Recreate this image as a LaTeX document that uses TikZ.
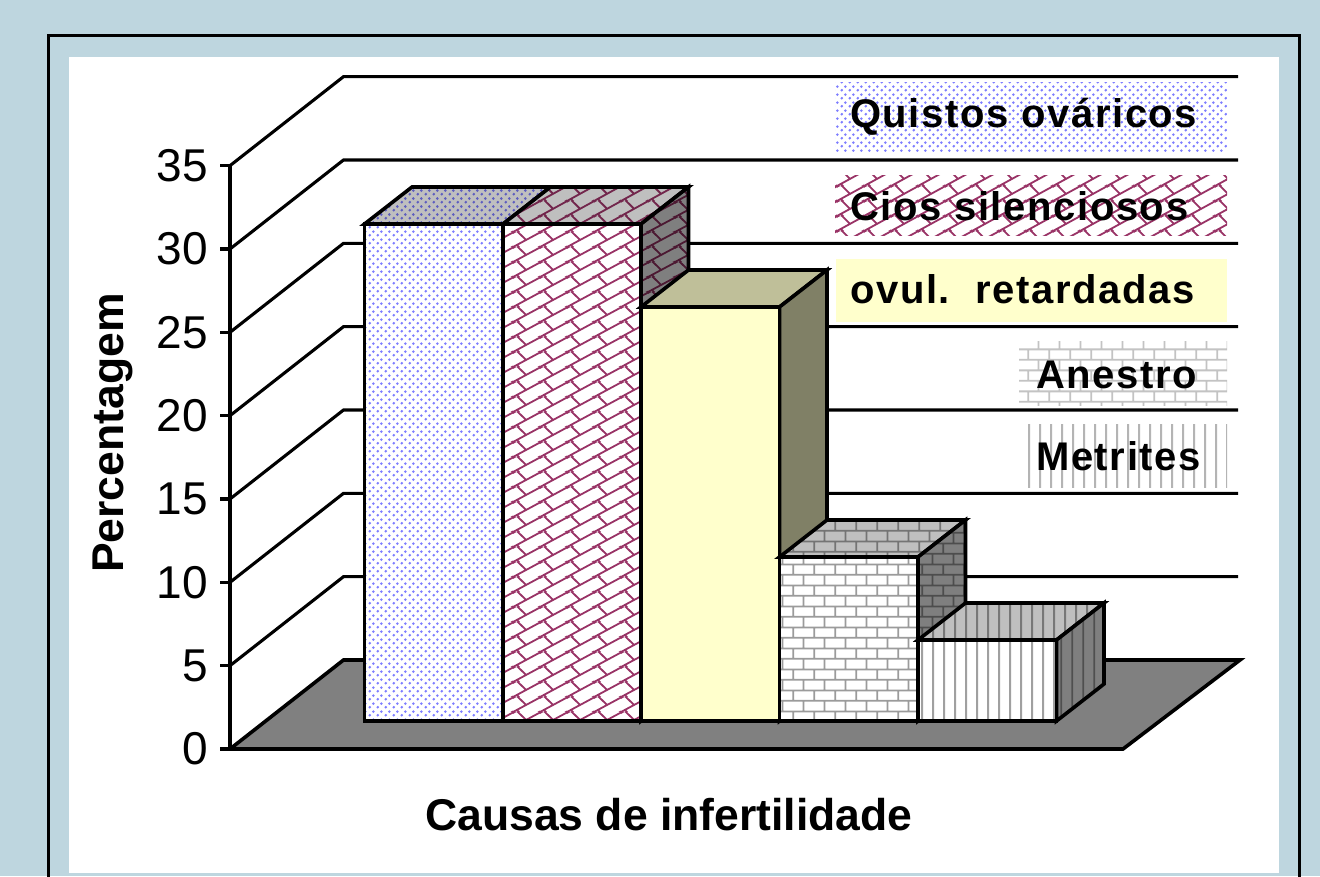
\documentclass[tikz,border=0pt]{standalone}
\usepackage{fontspec}
\setmainfont{Liberation Sans}
\newfontfamily\legfont[LetterSpace=4.0]{Liberation Sans}
\usetikzlibrary{patterns}
\definecolor{bgblue}{RGB}{190,214,223}
\definecolor{dotcol}{RGB}{125,125,255}
\definecolor{maroon}{RGB}{153,51,102}
\definecolor{brickcol}{RGB}{155,155,155}
\definecolor{brickleg}{RGB}{195,195,195}
\definecolor{vlcol}{RGB}{160,160,160}
\definecolor{vlleg}{RGB}{180,180,180}
\definecolor{ylw}{RGB}{255,255,204}
\definecolor{floorgray}{RGB}{128,128,128}
% dots: staggered lattice 8 x 4
\pgfdeclarepatternformonly{mydots}{\pgfpointorigin}{\pgfpoint{8pt}{8pt}}{\pgfpoint{8pt}{8pt}}{%
  \pgfpathcircle{\pgfpoint{2pt}{2pt}}{1.6pt}%
  \pgfpathcircle{\pgfpoint{6pt}{6pt}}{1.6pt}%
  \pgfusepath{fill}}
% horizontal bricks 21.333 x 10.667
\pgfdeclarepatternformonly{mybricks}{\pgfpointorigin}{\pgfpoint{21.333pt}{21.333pt}}{\pgfpoint{21.333pt}{21.333pt}}{%
  \pgfsetlinewidth{1.9pt}%
  \pgfpathmoveto{\pgfpoint{-1pt}{5.333pt}}\pgfpathlineto{\pgfpoint{22.333pt}{5.333pt}}%
  \pgfpathmoveto{\pgfpoint{-1pt}{16pt}}\pgfpathlineto{\pgfpoint{22.333pt}{16pt}}%
  \pgfpathmoveto{\pgfpoint{5.333pt}{5.333pt}}\pgfpathlineto{\pgfpoint{5.333pt}{16pt}}%
  \pgfpathmoveto{\pgfpoint{16pt}{16pt}}\pgfpathlineto{\pgfpoint{16pt}{22.333pt}}%
  \pgfpathmoveto{\pgfpoint{16pt}{-1pt}}\pgfpathlineto{\pgfpoint{16pt}{5.333pt}}%
  \pgfusepath{stroke}}
% vertical lines every 10.667
\pgfdeclarepatternformonly{myvlines}{\pgfpointorigin}{\pgfpoint{10.667pt}{10.667pt}}{\pgfpoint{10.667pt}{10.667pt}}{%
  \pgfsetlinewidth{2pt}%
  \pgfpathmoveto{\pgfpoint{5.333pt}{-1pt}}\pgfpathlineto{\pgfpoint{5.333pt}{11.667pt}}%
  \pgfusepath{stroke}}
% diagonal bricks, tile 27 x 15
\pgfdeclarepatternformonly{mydiag}{\pgfpointorigin}{\pgfpoint{27pt}{15pt}}{\pgfpoint{27pt}{15pt}}{%
  \pgfsetlinewidth{1.9pt}%
  \pgfpathmoveto{\pgfpoint{-5pt}{-17.78pt}}\pgfpathlineto{\pgfpoint{32pt}{2.78pt}}%
  \pgfpathmoveto{\pgfpoint{-5pt}{-2.78pt}}\pgfpathlineto{\pgfpoint{32pt}{17.78pt}}%
  \pgfpathmoveto{\pgfpoint{-5pt}{12.22pt}}\pgfpathlineto{\pgfpoint{32pt}{32.78pt}}%
  \pgfpathmoveto{\pgfpoint{13.5pt}{7.5pt}}\pgfpathlineto{\pgfpoint{3.86pt}{17.14pt}}%
  \pgfpathmoveto{\pgfpoint{13.5pt}{-7.5pt}}\pgfpathlineto{\pgfpoint{3.86pt}{2.14pt}}%
  \pgfusepath{stroke}}
\tikzset{
  edge/.style={draw=black,line width=3.6pt},
  gridln/.style={draw=black,line width=3.1pt},
  ticklbl/.style={anchor=east,inner sep=0pt,font=\fontsize{46}{50}\selectfont},
  legtxt/.style={anchor=base west,inner sep=0pt,font=\legfont\bfseries\fontsize{40}{44}\selectfont},
  axtitle/.style={anchor=base west,inner sep=0pt,font=\bfseries\fontsize{44.5}{48}\selectfont}
}
% face: path, pattern, pattern colour, shade opacity
\newcommand\face[4]{%
  \fill[white] #1;
  \fill[pattern=#2,pattern color=#3] #1;
  \fill[black,opacity=#4] #1;
  \draw[edge] #1;}
\begin{document}
\begin{tikzpicture}[x=1pt,y=-1pt]
\useasboundingbox (0,0) rectangle (1320,876);
% background and frame
\fill[bgblue] (0,0) rectangle (1320,876);
\draw[line width=3pt] (48,900) -- (48,35) -- (1299,35) -- (1299,900);
\fill[white] (69,57) rectangle (1279,873);
% grid (back and side walls)
\foreach \v in {5,10,...,35}{
  \pgfmathsetmacro\gy{749-16.667*\v}
  \draw[gridln] (230,\gy) -- (343.5,\gy-89) -- (1238,\gy-89);
}
% floor
\filldraw[fill=floorgray,edge] (230,749) -- (343.5,660) -- (1240,660) -- (1123,749) -- cycle;
% axis and ticks
\draw[gridln] (230,166) -- (230,749);
\foreach \v in {0,5,...,35}{
  \pgfmathsetmacro\gy{749-16.667*\v}
  \draw[gridln] (220,\gy) -- (230,\gy);
  \node[ticklbl] (lbl\v) at (208,\gy) {\v};
}
% ---- bar 1: Quistos ovaricos (30)
\face{(364.5,224) -- (412,187) -- (550.5,187) -- (503,224) -- cycle}{mydots}{dotcol}{0.25}
\face{(364.5,224) -- (503,224) -- (503,721) -- (364.5,721) -- cycle}{mydots}{dotcol}{0}
% ---- bar 2: Cios silenciosos (30)
\face{(503,224) -- (550.5,187) -- (688.5,187) -- (641,224) -- cycle}{mydiag}{maroon}{0.25}
\face{(641,224) -- (688.5,187) -- (688.5,684) -- (641,721) -- cycle}{mydiag}{maroon}{0.5}
\face{(503,224) -- (641,224) -- (641,721) -- (503,721) -- cycle}{mydiag}{maroon}{0}
% ---- bar 3: ovul. retardadas (25)
\filldraw[fill=ylw!75!black,edge] (641,307) -- (688.5,270) -- (827,270) -- (779.5,307) -- cycle;
\filldraw[fill=ylw!50!black,edge] (779.5,307) -- (827,270) -- (827,684) -- (779.5,721) -- cycle;
\filldraw[fill=ylw,edge] (641,307) rectangle (779.5,721);
% ---- bar 4: Anestro (10)
\face{(779.5,557) -- (827,520) -- (965.5,520) -- (918,557) -- cycle}{mybricks}{brickcol}{0.25}
\face{(918,557) -- (965.5,520) -- (965.5,684) -- (918,721) -- cycle}{mybricks}{brickcol}{0.5}
\face{(779.5,557) -- (918,557) -- (918,721) -- (779.5,721) -- cycle}{mybricks}{brickcol}{0}
% ---- bar 5: Metrites (5)
\face{(918,640) -- (965.5,603) -- (1104,603) -- (1056.5,640) -- cycle}{myvlines}{vlcol}{0.25}
\face{(1056.5,640) -- (1104,603) -- (1104,684) -- (1056.5,721) -- cycle}{myvlines}{vlcol}{0.5}
\face{(918,640) -- (1056.5,640) -- (1056.5,721) -- (918,721) -- cycle}{myvlines}{vlcol}{0}
% ---- legend
\fill[pattern=mydots,pattern color=dotcol] (835,82) rectangle (1227,151);
\node[legtxt] (leg1) at (850,127) {Quistos ováricos};
\fill[pattern=mydiag,pattern color=maroon] (835,175) rectangle (1227,235);
\node[legtxt] (leg2) at (850,220) {Cios silenciosos};
\fill[ylw] (836,259) rectangle (1227,322);
\node[legtxt] (leg3) at (850,303) {ovul.\ \ retardadas};
\fill[pattern=mybricks,pattern color=brickleg] (1019,341) rectangle (1227,405);
\node[legtxt] (leg4) at (1036,388) {Anestro};
\fill[pattern=myvlines,pattern color=vlleg] (1020,424) rectangle (1227,487);
\node[legtxt] (leg5) at (1036,470) {Metrites};
% ---- axis titles
\node[axtitle,rotate=90] (ytitle) at (123,573) {Percentagem};
\node[axtitle] (xtitle) at (425,830) {Causas de infertilidade};
\end{tikzpicture}
\end{document}
